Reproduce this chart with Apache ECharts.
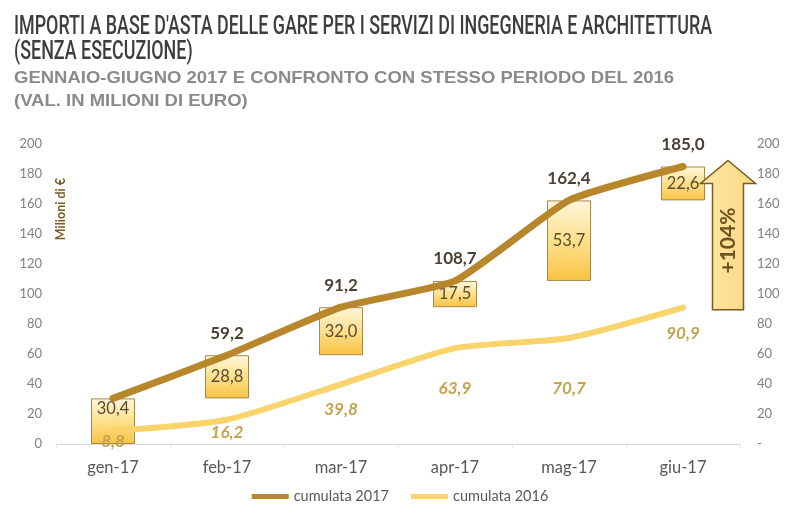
<!DOCTYPE html>
<html><head><meta charset="utf-8">
<script src="https://cdn.jsdelivr.net/npm/echarts@6/dist/echarts.min.js"></script>
<style>html,body{margin:0;padding:0;background:#fff}#c{width:800px;height:518px}</style>
</head><body><div id="c"></div>
<script>
var categories = ['gen-17','feb-17','mar-17','apr-17','mag-17','giu-17'];
var cumulata2017 = [30.4, 59.2, 91.2, 108.7, 162.4, 185.0];
var cumulata2016 = [8.8, 16.2, 39.8, 63.9, 70.7, 90.9];
var incrementi = [30.4, 28.8, 32.0, 17.5, 53.7, 22.6];
var yTicks = [0,20,40,60,80,100,120,140,160,180,200];
var variazione = '+104%';
var titolo1 = "IMPORTI A BASE D'ASTA DELLE GARE PER I SERVIZI DI INGEGNERIA E ARCHITETTURA";
var titolo2 = '(SENZA ESECUZIONE)';
var sottotitolo1 = 'GENNAIO-GIUGNO 2017 E CONFRONTO CON STESSO PERIODO DEL 2016';
var sottotitolo2 = '(VAL. IN MILIONI DI EURO)';

// label placement (style only): extra gap below each 2016 point, as in the original layout
var gap2016 = [0, 2, 14, 29, 40, 15];

function fmt(v){ return v.toFixed(1).replace('.', ','); }
var base = incrementi.map(function(v,i){ return i === 0 ? 0 : cumulata2017[i-1]; });
var LBL = 'Lato, "Liberation Sans", sans-serif';

var mctx = document.createElement('canvas').getContext('2d');
function measure(text, font){ mctx.font = font; return mctx.measureText(text).width; }
var TFONT = '500 26px Roboto';
var SFONT = 'bold 16.5px "Liberation Sans"';
var tScale = 698 / measure(titolo1, TFONT);
var sScale = 660 / measure(sottotitolo1, SFONT);

var chart = echarts.init(document.getElementById('c'), null, {renderer:'canvas'});
var option = {
  animation: false,
  backgroundColor: '#fff',
  legend: {
    bottom: 9, left: 'center', itemWidth: 37, itemHeight: 5, itemGap: 22, icon: 'rect',
    textStyle: {fontFamily: LBL, fontSize: 14.5, color: '#595959'},
    data: ['cumulata 2017', 'cumulata 2016']
  },
  grid: {left: 56, right: 60, top: 144, bottom: 74},
  xAxis: {
    type: 'category', data: categories,
    axisLine: {lineStyle: {color: '#d9d9d9', width: 1}},
    axisTick: {show: true, alignWithLabel: false, length: 4, lineStyle: {color: '#e3e3e3'}},
    axisLabel: {fontFamily: LBL, fontSize: 16.5, color: '#595959', margin: 15}
  },
  yAxis: [
    {type: 'value', min: yTicks[0], max: yTicks[yTicks.length-1], interval: 20,
     splitLine: {show: false}, axisLine: {show: false}, axisTick: {show: false},
     axisLabel: {fontFamily: LBL, fontSize: 13, color: '#808080', margin: 14}},
    {type: 'value', min: yTicks[0], max: yTicks[yTicks.length-1], interval: 20, position: 'right',
     splitLine: {show: false}, axisLine: {show: false}, axisTick: {show: false},
     axisLabel: {fontFamily: LBL, fontSize: 13, color: '#808080', margin: 17,
       formatter: function(v){ return v === 0 ? '-' : v; }}}
  ],
  series: [
    {name: 'base', type: 'bar', stack: 'mensile', barWidth: 44, silent: true,
     itemStyle: {color: 'transparent'}, data: base, z: 1},
    {name: 'mensile', type: 'bar', stack: 'mensile', barWidth: 44, z: 1,
     itemStyle: {
       color: new echarts.graphic.LinearGradient(0,0,0,1,[{offset:0,color:'#fff7dc'},{offset:0.5,color:'#fde08c'},{offset:1,color:'#f8c343'}]),
       borderColor: '#a8874a', borderWidth: 1
     },
     label: {show: true, position: 'inside', fontFamily: LBL, fontSize: 16.5, color: '#5a4a30',
       formatter: function(p){ return fmt(p.value); }},
     data: incrementi.map(function(v,i){
       return i === 0 ? {value: v, label: {position: 'insideTop', distance: 2}} : v;
     })},
    {name: 'cumulata 2017', type: 'line', smooth: 0.15, symbol: 'circle', symbolSize: 1, showSymbol: true, z: 5,
     lineStyle: {color: '#b8862b', width: 7, cap: 'round'}, itemStyle: {color: '#b8862b'},
     label: {show: true, position: 'top', distance: 13, fontFamily: LBL, fontSize: 17, fontWeight: 'bold', color: '#4c4232',
       formatter: function(p){ return fmt(p.value); }},
     data: cumulata2017.map(function(v,i){ return i === 0 ? {value: v, label: {show: false}} : v; })},
    {name: 'cumulata 2016', type: 'line', smooth: 0.2, symbol: 'circle', symbolSize: 1, showSymbol: true, z: 4,
     lineStyle: {color: '#f8d46a', width: 6, cap: 'round'}, itemStyle: {color: '#f8d46a'},
     label: {show: true, position: 'bottom', distance: 2, fontFamily: LBL, fontSize: 17, fontStyle: 'italic', fontWeight: 'bold', color: '#c4a24e',
       formatter: function(p){ return fmt(p.value); }},
     data: cumulata2016.map(function(v,i){ return {value: v, label: {distance: 2 + gap2016[i]}}; })}
  ]
};
chart.setOption(option);

var cx = chart.convertToPixel({xAxisIndex: 0}, categories[5]) + 45;
var yBot = chart.convertToPixel({yAxisIndex: 0}, cumulata2016[5]) + 2;
var yTip = chart.convertToPixel({yAxisIndex: 0}, cumulata2017[5]) - 6;
var bw = 15.5, hw = 27.5, hh = 23;
chart.setOption({
  graphic: [
    {type: 'text', x: 14, y: 14, scaleX: tScale, z: 10,
     style: {text: titolo1, font: TFONT, fill: '#3d3d3d', verticalAlign: 'top'}},
    {type: 'text', x: 14, y: 39, scaleX: tScale, z: 10,
     style: {text: titolo2, font: TFONT, fill: '#3d3d3d', verticalAlign: 'top'}},
    {type: 'text', x: 14, y: 70, scaleX: sScale, z: 10,
     style: {text: sottotitolo1, font: SFONT, fill: '#8a8a8a', verticalAlign: 'top'}},
    {type: 'text', x: 14, y: 93, scaleX: sScale, z: 10,
     style: {text: sottotitolo2, font: SFONT, fill: '#8a8a8a', verticalAlign: 'top'}},
    {type: 'text', x: 54, y: 178, rotation: Math.PI/2, z: 10,
     style: {text: 'Milioni di €', font: 'bold 12.5px ' + LBL, fill: '#7d5a22', align: 'right', verticalAlign: 'top'}},
    {type: 'polygon', z: 10,
     shape: {points: [[cx, yTip],[cx+hw, yTip+hh],[cx+bw, yTip+hh],[cx+bw, yBot],[cx-bw, yBot],[cx-bw, yTip+hh],[cx-hw, yTip+hh]]},
     style: {fill: new echarts.graphic.LinearGradient(0,0,1,0,[{offset:0,color:'#fde7a4'},{offset:1,color:'#fbd882'}]), stroke: '#7a5c22', lineWidth: 1.5}},
    {type: 'text', z: 11, x: cx, y: (yTip + hh + yBot)/2 - 6, rotation: Math.PI/2,
     style: {text: variazione, font: 'bold 21px ' + LBL, fill: '#6b5220', align: 'center', verticalAlign: 'middle'}}
  ]
});
</script></body></html>
